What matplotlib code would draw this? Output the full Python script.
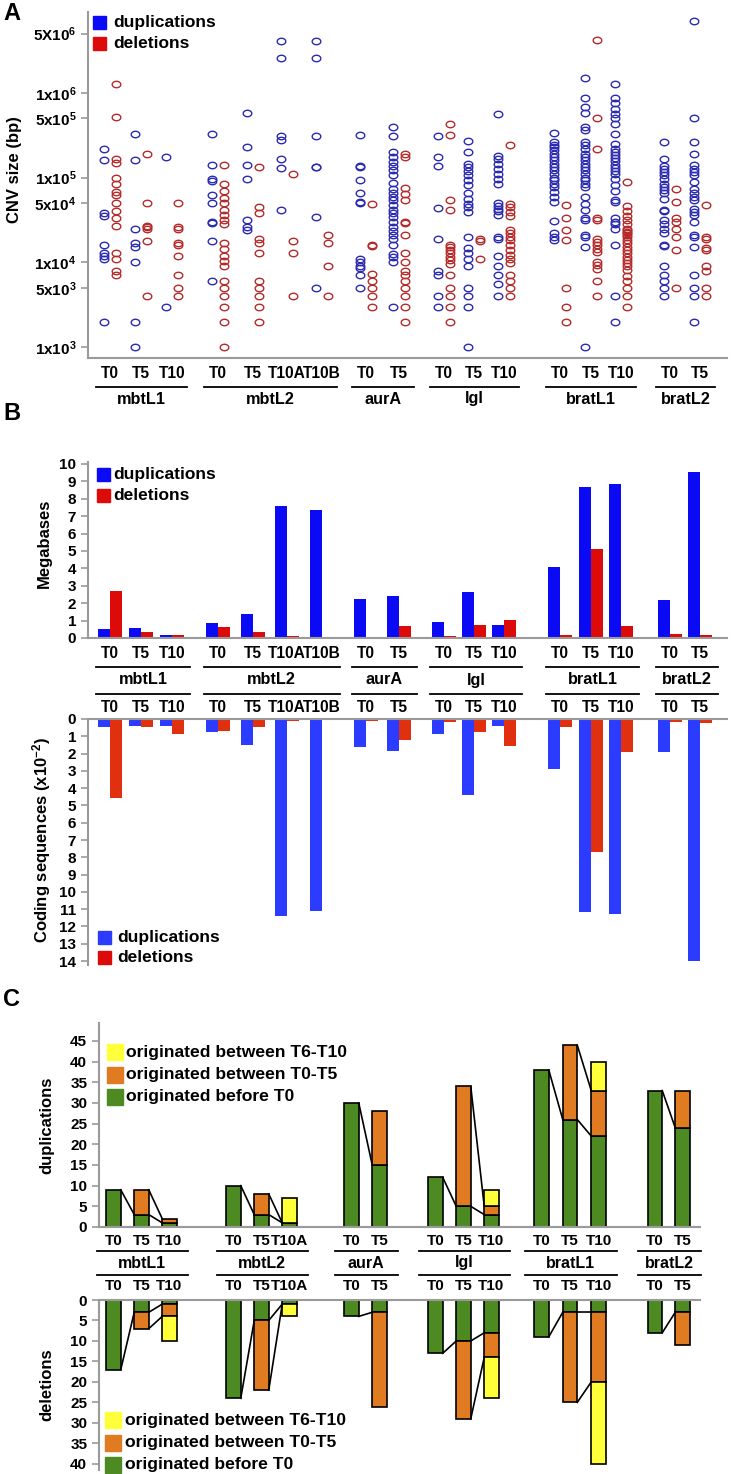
import numpy as np
import matplotlib.pyplot as plt
from matplotlib.patches import Rectangle
from matplotlib.lines import Line2D

plt.rcParams['font.family'] = ['Liberation Sans', 'DejaVu Sans']
plt.rcParams['font.weight'] = 'bold'
plt.rcParams['mathtext.fontset'] = 'custom'
plt.rcParams['mathtext.rm'] = 'Liberation Sans:bold'
plt.rcParams['mathtext.it'] = 'Liberation Sans:bold'
plt.rcParams['mathtext.bf'] = 'Liberation Sans:bold'

# DATOS

groups = ['mbtL1', 'mbtL2', 'aurA', 'lgl', 'bratL1', 'bratL2']
times = [['T0', 'T5', 'T10'], ['T0', 'T5', 'T10A', 'T10B'], ['T0', 'T5'],
         ['T0', 'T5', 'T10'], ['T0', 'T5', 'T10'], ['T0', 'T5']]
c_times = [['T0', 'T5', 'T10'], ['T0', 'T5', 'T10A'], ['T0', 'T5'],
           ['T0', 'T5', 'T10'], ['T0', 'T5', 'T10'], ['T0', 'T5']]

# A: CNV sizes (bp), one list per sample
dup_sizes = [
    [2.2e5, 1.6e5, 3.8e4, 3.5e4, 1.6e4, 1.3e4, 1.2e4, 1.1e4, 2e3],
    [3.3e5, 1.6e5, 2.5e4, 1.7e4, 1.5e4, 1e4, 2e3, 1e3],
    [1.75e5, 3e3],
    [3.3e5, 1.4e5, 9.5e4, 9e4, 6.2e4, 5e4, 3e4, 2.9e4, 1.8e4, 6e3],
    [5.8e5, 2.3e5, 1.4e5, 9.7e4, 3.2e4, 2.6e4, 2.4e4],
    [4.1e6, 2.6e6, 3.1e5, 2.8e5, 1.66e5, 1.3e5, 4.1e4],
    [4.1e6, 2.6e6, 3.1e5, 1.35e5, 1.33e5, 3.4e4, 5e3],
    [3.2e5, 1.37e5, 1.35e5, 9.3e4, 6.5e4, 5.1e4, 5e4, 1.1e4, 1e4, 9e3, 8.5e3, 7e3, 5e3],
    [4e5, 3.1e5, 2e5, 1.75e5, 1.53e5, 1.37e5, 1.22e5, 1.08e5, 8.6e4, 7.4e4, 6.6e4, 5.9e4,
     5.4e4, 4.7e4, 4.2e4, 3.8e4, 3.4e4, 3e4, 2.6e4, 2.35e4, 2.1e4, 1.9e4, 1.6e4, 1.25e4,
     1.15e4, 1e4, 3e3],
    [3.1e5, 1.75e5, 1.36e5, 4.4e4, 1.9e4, 8e3, 7e3, 4e3, 3e3],
    [2.7e5, 2e5, 1.46e5, 1.34e5, 1.2e5, 1.07e5, 9.3e4, 8.2e4, 6.5e4, 5.6e4, 4.9e4, 4.5e4,
     3.9e4, 2e4, 1.47e4, 1.28e4, 1.1e4, 9e3, 5e3, 4e3, 3e3, 1e3],
    [5.7e5, 1.8e5, 1.67e5, 1.46e5, 1.28e5, 1.1e5, 9.7e4, 8.5e4, 5e4, 4.6e4, 4.3e4, 4e4,
     3.6e4, 2e4, 1.9e4, 1.2e4, 9e3, 7e3, 5.6e3, 4e3],
    [3.4e5, 2.6e5, 2.4e5, 2.3e5, 2.1e5, 1.9e5, 1.75e5, 1.6e5, 1.46e5, 1.34e5, 1.22e5, 1.1e5,
     1e5, 9.3e4, 8.5e4, 7.8e4, 6.8e4, 5.9e4, 5.1e4, 3.1e4, 2.2e4, 2e4, 1.85e4],
    [1.5e6, 8.6e5, 6.8e5, 5.8e5, 4e5, 3.6e5, 2.6e5, 2.4e5, 2.2e5, 1.9e5, 1.75e5, 1.6e5,
     1.46e5, 1.34e5, 1.22e5, 1.1e5, 1e5, 9.3e4, 8.5e4, 7.8e4, 5.9e4, 4.9e4, 4.1e4, 3.3e4,
     3.2e4, 2.1e4, 2e4, 1.5e4, 1e3],
    [1.26e6, 8.6e5, 7.5e5, 6.5e5, 5.7e5, 5e5, 4.3e5, 3.3e5, 2.5e5, 2.2e5, 2e5, 1.85e5,
     1.7e5, 1.55e5, 1.42e5, 1.3e5, 1.2e5, 1.1e5, 9.5e4, 8.2e4, 7e4, 5.4e4, 5.1e4, 3.3e4,
     3e4, 2.8e4, 2.5e4, 1.6e4, 4e3, 2e3],
    [2.6e5, 1.68e5, 1.37e5, 1.28e5, 1.17e5, 1.07e5, 9.7e4, 8.5e4, 7.8e4, 7.1e4, 6.5e4,
     5.6e4, 4.2e4, 4e4, 3.2e4, 2.8e4, 2.5e4, 2.2e4, 1.6e4, 1.55e4, 9e3, 7e3, 6e3, 5e3, 4e3],
    [7e6, 5e5, 2.6e5, 1.9e5, 1.4e5, 1.28e5, 1.17e5, 1.07e5, 8.9e4, 7.4e4, 6.5e4, 5.9e4,
     5.4e4, 4.3e4, 3.9e4, 3.6e4, 3e4, 2.1e4, 2e4, 1.5e4, 7e3, 5e3, 4e3, 2e3],
]
del_sizes = [
    [1.26e6, 5.2e5, 1.65e5, 1.5e5, 1e5, 8.5e4, 6.8e4, 6.2e4, 5e4, 4e4, 3.3e4, 2.7e4,
     1.3e4, 1.1e4, 8e3, 7e3],
    [1.9e5, 5e4, 2.7e4, 2.6e4, 2.5e4, 1.8e4, 4e3],
    [5e4, 2.6e4, 2.5e4, 1.7e4, 1.6e4, 1.2e4, 7e3, 5e3, 4e3],
    [1.4e5, 8.4e4, 6.9e4, 5.8e4, 5e4, 4.2e4, 3.6e4, 3.2e4, 2.8e4, 1.7e4, 1.45e4, 1.2e4,
     1.05e4, 9e3, 6e3, 5e3, 4e3, 3e3, 2e3, 1e3],
    [1.35e5, 4.5e4, 3.8e4, 1.9e4, 1.7e4, 1.3e4, 6e3, 5e3, 4e3, 3e3, 2e3],
    [1.1e5, 1.8e4, 1.3e4, 4e3],
    [2.1e4, 1.7e4, 9e3, 4e3],
    [4.9e4, 1.6e4, 1.55e4, 7.2e3, 6e3, 5e3, 4e3, 3e3],
    [1.9e5, 1.75e5, 7.5e4, 6.4e4, 5.4e4, 3e4, 2.9e4, 2.1e4, 1.3e4, 1e4, 8e3, 7e3, 6e3,
     5e3, 4e3, 3e3, 2e3],
    [4.3e5, 3.2e5, 5.4e4, 4.2e4, 1.6e4, 1.5e4, 1.4e4, 1.3e4, 1.17e4, 1.06e4, 9.6e3, 7e3,
     5e3, 4e3, 3e3, 2e3],
    [1.9e4, 1.8e4, 1.1e4],
    [2.45e5, 4.9e4, 4.5e4, 3.9e4, 3.5e4, 2.4e4, 2.2e4, 2e4, 1.85e4, 1.6e4, 1.4e4, 1.22e4,
     1.1e4, 9.7e3, 7e3, 6e3, 5e3, 4e3],
    [4.8e4, 3.3e4, 2.4e4, 1.85e4, 5e3, 3e3, 2e3],
    [4.2e6, 5e5, 2.2e5, 3.3e4, 3.2e4, 1.9e4, 1.75e4, 1.6e4, 1.45e4, 1.34e4, 1e4, 9.3e3,
     8.3e3, 6e3, 4e3],
    [8.9e4, 4.6e4, 4e4, 3.5e4, 3.2e4, 2.8e4, 2.5e4, 2.4e4, 2.3e4, 2.2e4, 2.1e4, 2e4,
     1.85e4, 1.7e4, 1.5e4, 1.4e4, 1.28e4, 1.17e4, 1.06e4, 9.7e3, 9e3, 8.1e3, 6.9e3, 6e3,
     5e3, 4e3, 3e3],
    [7.4e4, 5.1e4, 3.3e4, 3e4, 2.5e4, 2e4, 1.4e4, 5e3],
    [4.7e4, 2e4, 1.88e4, 1.46e4, 1.4e4, 9e3, 8e3, 5e3, 4e3],
]

# B: megabases and coding sequences (x10^-2)
mb_dup = [0.52, 0.57, 0.17, 0.86, 1.38, 7.6, 7.33, 2.26, 2.41, 0.9, 2.62, 0.73, 4.05, 8.66, 8.85, 2.2, 9.56]
mb_del = [2.7, 0.35, 0.17, 0.63, 0.33, 0.13, 0.04, 0.06, 0.67, 0.13, 0.76, 1.03, 0.17, 5.1, 0.69, 0.25, 0.17]
cds_dup = [0.46, 0.39, 0.39, 0.75, 1.5, 11.37, 11.1, 1.6, 1.85, 0.85, 4.4, 0.42, 2.9, 11.16, 11.3, 1.93, 14.0]
cds_del = [4.57, 0.46, 0.89, 0.7, 0.48, 0.12, 0.08, 0.13, 1.2, 0.2, 0.73, 1.54, 0.44, 7.7, 1.93, 0.19, 0.25]

# C: counts by origin
dup_before = [9, 3, 1, 10, 3, 1, 30, 15, 12, 5, 3, 38, 26, 22, 33, 24]
dup_t0t5 = [0, 6, 1, 0, 5, 0, 0, 13, 0, 29, 2, 0, 18, 11, 0, 9]
dup_t6t10 = [0, 0, 0, 0, 0, 6, 0, 0, 0, 0, 4, 0, 0, 7, 0, 0]
del_before = [17, 3, 1, 24, 5, 1, 4, 3, 13, 10, 8, 9, 3, 3, 8, 3]
del_t0t5 = [0, 4, 3, 0, 17, 0, 0, 23, 0, 19, 6, 0, 22, 17, 0, 8]
del_t6t10 = [0, 0, 6, 0, 0, 3, 0, 0, 0, 0, 10, 0, 0, 20, 0, 0]

# COLORES

c_dot_dup = '#2B2BB0'
c_dot_del = '#B52A2A'
c_mb_dup = '#0A0AF5'
c_mb_del = '#DD0A0A'
c_cds_dup = '#2B3BFF'
c_cds_del = '#E0300F'
c_green = '#4E8A22'
c_orange = '#E07B22'
c_yellow = '#FFFF3A'
gris = '#9A9A9A'

W, H = 734, 1474
fig = plt.figure(figsize=(W / 100, H / 100), dpi=100)


def add_ax(l, t, r, b, spines):
    ax = fig.add_axes([l / W, 1 - b / H, (r - l) / W, (b - t) / H])
    ax.set_xlim(l, r)
    ax.set_xticks([])
    for name, s in ax.spines.items():
        s.set_visible(name in spines)
        s.set_color(gris)
        s.set_linewidth(1.5)
    ax.tick_params(axis='y', color=gris, length=5, width=1.2, labelsize=11)
    return ax


def ftext(x, y, s, **kw):
    kw.setdefault('ha', 'center')
    kw.setdefault('va', 'center')
    kw.setdefault('fontweight', 'bold')
    fig.text(x / W, 1 - y / H, s, **kw)


def fline(x0, x1, y, color='k', lw=1.3):
    fig.add_artist(Line2D([x0 / W, x1 / W], [1 - y / H, 1 - y / H], color=color, lw=lw))


def fsquare(x, y, size, color):
    fig.add_artist(Rectangle((x / W, 1 - (y + size) / H), size / W, size / H,
                             transform=fig.transFigure, color=color))


def legend(x, y0, step, size, labels, colors, fs, tx):
    for i, (lab, col) in enumerate(zip(labels, colors)):
        y = y0 + i * step
        fsquare(x, y, size, col)
        ftext(tx, y + size / 2, lab, ha='left', fontsize=fs)


def positions(starts, spacings, tlist):
    pos = []
    for g, ts in enumerate(tlist):
        for j in range(len(ts)):
            pos.append(starts[g] + j * spacings[g])
    return pos


def group_rows(pos, tlist, rows, fs, pad_l, pad_r):
    k = 0
    for g, ts in enumerate(tlist):
        p = pos[k:k + len(ts)]
        x0, x1 = p[0] - pad_l, p[-1] + pad_r
        for kind, y in rows:
            if kind == 't':
                for xx, t in zip(p, ts):
                    ftext(xx, y, t, fontsize=fs)
            elif kind == 'line':
                fline(x0, x1, y)
            else:
                ftext((x0 + x1) / 2, y, groups[g], fontsize=fs + 0.5)
        k += len(ts)


pos_ab = positions([110, 218, 366, 444, 560, 670], [31, 34.5, 33, 30, 30.5, 30], times)
pos_c = positions([113.5, 233.5, 351.5, 435.5, 541.5, 655], [28, 28, 28, 28, 28.5, 27.5], c_times)

# PANEL A

axA = add_ax(88, 12, 727, 358, ('left', 'bottom'))
axA.set_yscale('log')
axA.set_ylim(10 ** (3 - 11 / 84.7), 10 ** (3 + 335 / 84.7))
yt = [1e3, 5e3, 1e4, 5e4, 1e5, 5e5, 1e6, 5e6]
ytl = [r'1x10$^3$', r'5x10$^3$', r'1x10$^4$', r'5x10$^4$', r'1x10$^5$', r'5x10$^5$',
       r'1x10$^6$', r'5X10$^6$']
axA.set_yticks(yt)
axA.set_yticklabels(ytl)
axA.minorticks_off()

th = np.linspace(0, 2 * np.pi, 40)
elipse = list(zip(np.cos(th), 0.75 * np.sin(th)))
for p, d, e in zip(pos_ab, dup_sizes, del_sizes):
    axA.plot([p - 6] * len(d), d, linestyle='none', marker=elipse, mfc='none',
             mec=c_dot_dup, ms=6.2, mew=1.0)
    axA.plot([p + 6] * len(e), e, linestyle='none', marker=elipse, mfc='none',
             mec=c_dot_del, ms=6.2, mew=1.0)

legend(93, 16, 21, 13, ['duplications', 'deletions'], [c_mb_dup, c_mb_del], 12.5, 113)
ftext(15, 170, 'CNV size (bp)', rotation=90, fontsize=12)
ftext(12, 14, 'A', fontsize=17)
group_rows(pos_ab, times, [('t', 373), ('line', 387), ('name', 399)], 11.2, 14, 15)

# PANEL B

axB1 = add_ax(88, 462, 727, 638, ('left', 'bottom'))
axB1.set_ylim(0, 10.11)
axB1.set_yticks(range(0, 11))
axB1.bar(np.array(pos_ab) - 6, mb_dup, width=12, color=c_mb_dup)
axB1.bar(np.array(pos_ab) + 6, mb_del, width=12, color=c_mb_del)

axB2 = add_ax(88, 719, 727, 965, ('left', 'top'))
axB2.set_ylim(14.23, 0)
axB2.set_yticks(range(0, 15))
axB2.bar(np.array(pos_ab) - 6, cds_dup, width=12, color=c_cds_dup)
axB2.bar(np.array(pos_ab) + 6, cds_del, width=12, color=c_cds_del)

legend(97, 468, 21, 13, ['duplications', 'deletions'], [c_mb_dup, c_mb_del], 12.5, 113)
legend(98, 931, 20, 13, ['duplications', 'deletions'], [c_cds_dup, c_mb_del], 12.5, 117)
ftext(44, 543, 'Megabases', rotation=90, fontsize=12)
ftext(42, 840, r'Coding sequences (x10$^{-2}$)', rotation=90, fontsize=12)
ftext(12, 413, 'B', fontsize=17)
group_rows(pos_ab, times, [('t', 654), ('line', 667), ('name', 680), ('line', 694),
                           ('t', 707)], 11.2, 14, 18)

# PANEL C


def stacked(ax, before, t0t5, t6t10):
    w = 14.5
    b = np.array(before)
    o = np.array(t0t5)
    yl = np.array(t6t10)
    for i, p in enumerate(pos_c):
        for bottom, h, col in ((0, b[i], c_green), (b[i], o[i], c_orange),
                               (b[i] + o[i], yl[i], c_yellow)):
            if h > 0:
                ax.bar(p, h, bottom=bottom, width=w, color=col, edgecolor='k', linewidth=1.2)
    # lineas que unen los niveles entre tiempos consecutivos
    cum = [b, b + o]
    k = 0
    for ts in c_times:
        for t in range(len(ts) - 1):
            i, j = k + t, k + t + 1
            for lev in range(t + 1):
                ax.plot([pos_c[i] + w / 2, pos_c[j] - w / 2], [cum[lev][i], cum[lev][j]],
                        color='k', lw=1.2)
        k += len(ts)


axC1 = add_ax(99, 1023, 700, 1227, ('left', 'bottom'))
axC1.set_ylim(0, 49.35)
axC1.set_yticks(range(0, 46, 5))
stacked(axC1, dup_before, dup_t0t5, dup_t6t10)

axC2 = add_ax(99, 1300, 700, 1470, ('left', 'top'))
axC2.set_ylim(41.5, 0)
axC2.set_yticks(range(0, 41, 5))
stacked(axC2, del_before, del_t0t5, del_t6t10)

orig = ['originated between T6-T10', 'originated between T0-T5', 'originated before T0']
cols = [c_yellow, c_orange, c_green]
legend(107, 1044, 22.5, 16, orig, cols, 12.6, 126)
legend(105, 1412, 22.5, 16, orig, cols, 12.6, 125)
ftext(47, 1125, 'duplications', rotation=90, fontsize=12)
ftext(47, 1385, 'deletions', rotation=90, fontsize=12)
ftext(12, 999, 'C', fontsize=17)
group_rows(pos_c, c_times, [('t', 1241), ('line', 1251), ('name', 1263), ('line', 1275),
                            ('t', 1286)], 11, 17, 18)

fig.savefig('out.png', dpi=100)
